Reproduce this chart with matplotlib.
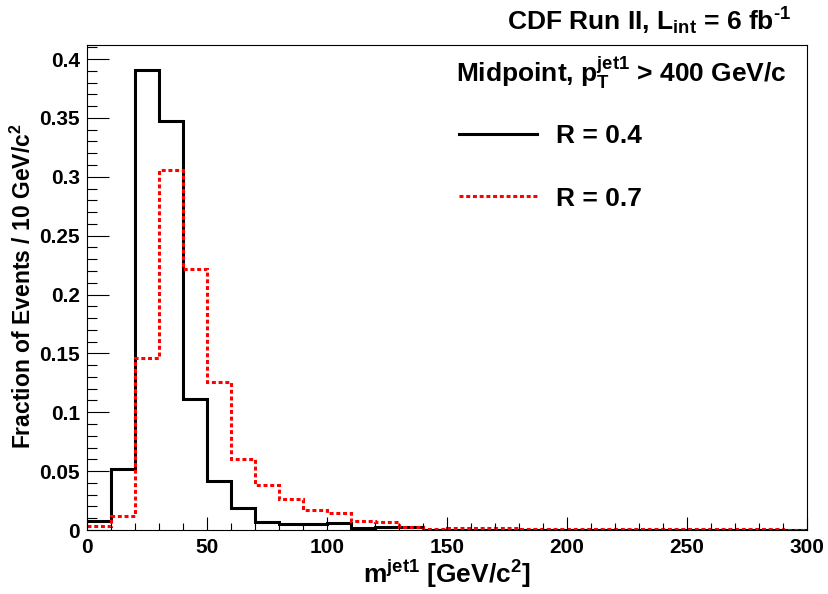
import numpy as np
import matplotlib
matplotlib.use("Agg")
import matplotlib.pyplot as plt
from matplotlib.ticker import MultipleLocator

# bin edges (10 GeV/c^2 bins from 0 to 300)
bin_edges = np.arange(0, 301, 10)

# fraction of events per bin, R = 0.4 (black, solid)
frac_r04 = [0.008, 0.052, 0.391, 0.347, 0.111, 0.042, 0.019, 0.0065, 0.005, 0.005,
            0.0057, 0.0014, 0.0027, 0.0027, 0.0004, 0.0004, 0.0003, 0.0003, 0.0003, 0.0002,
            0.0002, 0.0002, 0.0002, 0.0001, 0.0001, 0.0001, 0.0001, 0.0001, 0.0001, 0.0001]

# fraction of events per bin, R = 0.7 (red, dotted)
frac_r07 = [0.003, 0.012, 0.146, 0.306, 0.222, 0.126, 0.060, 0.038, 0.026, 0.017,
            0.0144, 0.0078, 0.0066, 0.0029, 0.0007, 0.0014, 0.0017, 0.0013, 0.0011, 0.0010,
            0.0010, 0.0010, 0.0009, 0.0008, 0.0007, 0.0006, 0.0006, 0.0005, 0.0005, 0.0004]

series_labels = ["R = 0.4", "R = 0.7"]

plt.rcParams['font.family'] = ['Liberation Sans', 'DejaVu Sans']
plt.rcParams['font.weight'] = 'bold'
plt.rcParams['mathtext.fontset'] = 'custom'
plt.rcParams['mathtext.rm'] = 'Liberation Sans:bold'
plt.rcParams['mathtext.it'] = 'Liberation Sans:bold'
plt.rcParams['mathtext.bf'] = 'Liberation Sans:bold'

fig = plt.figure(figsize=(8.29, 5.94), dpi=100)
ax = fig.add_axes([87 / 829, 64 / 594, 720 / 829, 485 / 594])

ax.stairs(frac_r04, bin_edges, baseline=None, color='black', linewidth=2.2,
          label=series_labels[0])
ax.stairs(frac_r07, bin_edges, baseline=None, color='red', linewidth=2.2,
          linestyle=(0, (1.3, 0.9)), label=series_labels[1])

ax.set_xlim(0, 300)
ax.set_ylim(0, 0.4119)

ax.xaxis.set_major_locator(MultipleLocator(50))
ax.xaxis.set_minor_locator(MultipleLocator(10))
ax.yaxis.set_major_locator(MultipleLocator(0.05))
ax.yaxis.set_minor_locator(MultipleLocator(0.01))

ax.tick_params(axis='both', which='both', direction='in', width=0.8, top=False, right=False)
ax.tick_params(axis='x', which='major', length=9.5, pad=6, labelsize=15)
ax.tick_params(axis='x', which='minor', length=5)
ax.tick_params(axis='y', which='major', length=15.5, pad=5, labelsize=15)
ax.tick_params(axis='y', which='minor', length=7.5)

ax.yaxis.set_major_formatter(plt.FuncFormatter(lambda v, p: f"{v:g}"))
for lbl in ax.get_xticklabels() + ax.get_yticklabels():
    lbl.set_fontweight('bold')

for sp in ax.spines.values():
    sp.set_linewidth(0.8)

fig.text(447 / 829, 1 - 583 / 594, r"m$^{\rm jet1}$ [GeV/c$^{2}$]", ha='center', va='baseline',
         fontsize=19, fontweight='bold')
fig.text(23 / 829, 1 - 286 / 594, r"Fraction of Events / 10 GeV/c$^{2}$", rotation=90,
         ha='center', va='center', fontsize=16.5, fontweight='bold')

fig.text(791 / 829, 1 - 30 / 594, r"CDF Run II, L$_{\rm int}$ = 6 fb$^{\text{-}1}$", ha='right',
         va='baseline', fontsize=19, fontweight='bold')
fig.text(787 / 829, 1 - 82 / 594, r"Midpoint, p$_{\rm T}^{\rm jet1}$ > 400 GeV/c", ha='right',
         va='baseline', fontsize=19, fontweight='bold')

leg = ax.legend(loc='upper left', bbox_to_anchor=(459 / 829, 1 - 124 / 594),
                bbox_transform=fig.transFigure, frameon=False, fontsize=19,
                handlelength=2.95, handletextpad=0.72, labelspacing=1.46,
                borderpad=0, borderaxespad=0)
for t in leg.get_texts():
    t.set_fontweight('bold')

fig.savefig("out.png", dpi=100)
